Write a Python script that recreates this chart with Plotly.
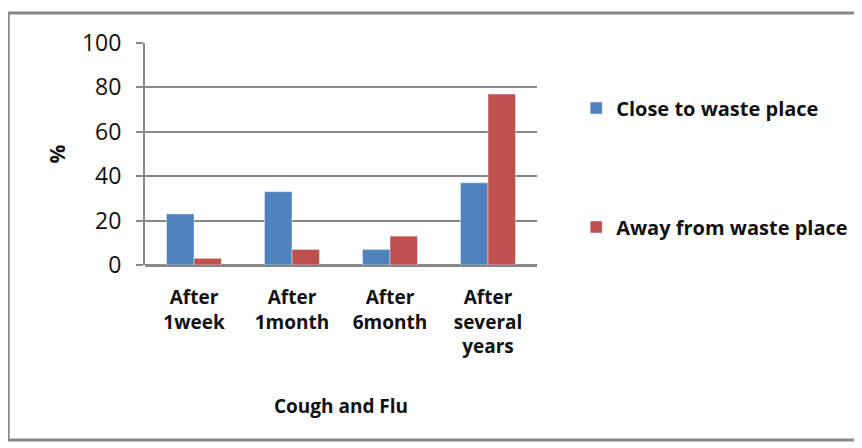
import plotly.graph_objects as go

categories = ["After<br>1week", "After<br>1month", "After<br>6month", "After<br>several<br>years"]
close_vals = [23, 33, 7, 37]
away_vals = [3, 7, 13, 77]
y_ticks = [0, 20, 40, 60, 80, 100]

FONT = "Open Sans, Liberation Sans, sans-serif"

fig = go.Figure()
fig.add_trace(go.Bar(x=categories, y=close_vals, name="Close to waste place",
                     marker_color="#4f81bd", legendgroup="a"))
fig.add_trace(go.Bar(x=categories, y=away_vals, name="Away from waste place",
                     marker_color="#c0504d", legendgroup="b"))

fig.update_layout(
    width=862, height=448,
    margin=dict(l=137, r=333, t=35, b=191, autoexpand=False),
    paper_bgcolor="white", plot_bgcolor="white",
    font=dict(family=FONT, color="#111111"),
    barmode="group", bargap=0.44, bargroupgap=0,
    showlegend=True,
    legend=dict(x=1.1, y=0.795, xanchor="left", yanchor="top",
                font=dict(size=20, family=FONT, weight="bold"),
                tracegroupgap=90, itemwidth=30, traceorder="grouped"),
    xaxis=dict(
        showline=False, ticks="", automargin=False,
        ticklabelstandoff=19,
        tickfont=dict(size=19, weight="bold"),
        title=dict(text="Cough and Flu", font=dict(size=19, weight="bold"), standoff=41),
    ),
    yaxis=dict(
        range=[0, 100], tickvals=y_ticks, automargin=False,
        showline=True, linecolor="#888888", linewidth=2,
        ticks="outside", ticklen=7, tickcolor="#888888", tickwidth=2,
        ticklabelstandoff=10,
        showgrid=True, gridcolor="#888888", gridwidth=2,
        zeroline=True, zerolinecolor="#888888", zerolinewidth=3,
        tickfont=dict(size=23),
        title=dict(text="%", font=dict(size=21, weight="bold"), standoff=11),
    ),
    shapes=[dict(type="rect", xref="paper", yref="paper",
                 x0=-0.349, x1=1.83, y0=-0.788, y1=1.135,
                 line=dict(color="#888888", width=3), layer="below")],
)

fig.write_html("out.html")
